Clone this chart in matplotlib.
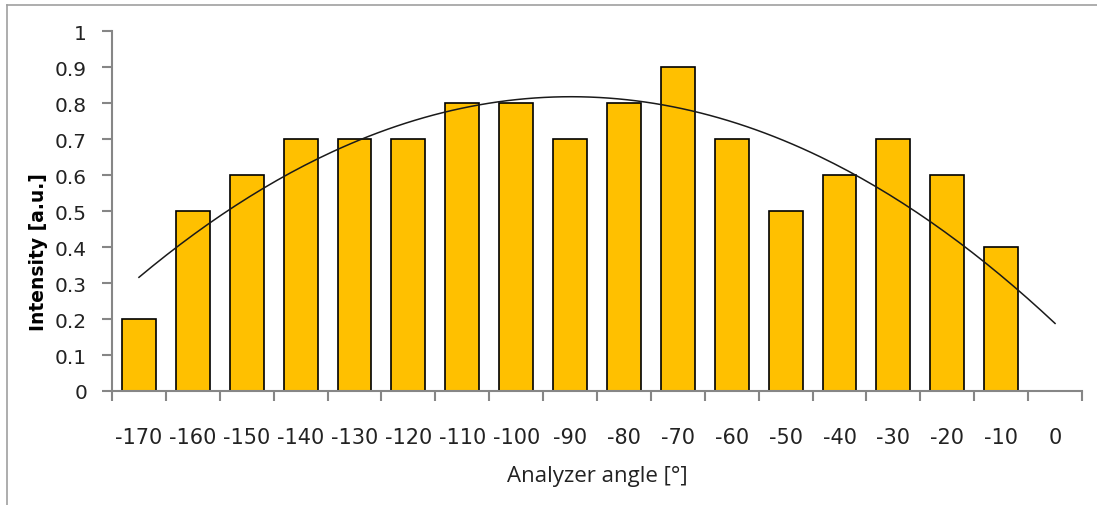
import matplotlib
matplotlib.use('Agg')
import matplotlib.pyplot as plt
from matplotlib.lines import Line2D
import numpy as np

# measured intensity per analyzer angle (0 at 0 degrees)
angles = [-170, -160, -150, -140, -130, -120, -110, -100, -90,
          -80, -70, -60, -50, -40, -30, -20, -10, 0]
intensity = [0.2, 0.5, 0.6, 0.7, 0.7, 0.7, 0.8, 0.8, 0.7,
             0.8, 0.9, 0.7, 0.5, 0.6, 0.7, 0.6, 0.4, 0.0]
y_ticks = [0, 0.1, 0.2, 0.3, 0.4, 0.5, 0.6, 0.7, 0.8, 0.9, 1]
y_labels = ['0', '0.1', '0.2', '0.3', '0.4', '0.5', '0.6', '0.7', '0.8', '0.9', '1']

axis_grey = '#868686'
text_col = '#222222'

fig = plt.figure(figsize=(10.97, 5.06), dpi=100)
ax = fig.add_axes([112/1097, 114/506, 970/1097, 360/506])

pos = np.arange(len(angles))
ax.bar(pos, intensity, width=0.63, color='#FFC000',
       edgecolor='black', linewidth=1.2, zorder=2)

# 2nd order polynomial trendline over the category index
xi = np.arange(1, len(intensity) + 1)
coef = np.polyfit(xi, intensity, 2)
xs = np.linspace(1, len(angles), 200)
ax.plot(xs - 1, np.polyval(coef, xs), color='#1a1a1a', lw=1.1, zorder=3)

ax.set_xlim(-0.5, len(angles) - 0.5)
ax.set_ylim(0, 1)
ax.set_yticks(y_ticks)
ax.set_yticklabels(y_labels)
ax.set_xticks(pos)
ax.set_xticklabels([str(a) for a in angles])
ax.set_xticks(np.arange(-0.5, len(angles), 1), minor=True)
ax.tick_params(axis='x', which='major', length=0, pad=26,
               labelsize=15, labelcolor=text_col)
ax.tick_params(axis='x', which='minor', length=7, width=1.5,
               color=axis_grey, direction='out')
ax.tick_params(axis='y', length=7, width=1.5, color=axis_grey,
               direction='out', labelsize=14.5, labelcolor=text_col, pad=11)

for s in ['top', 'right']:
    ax.spines[s].set_visible(False)
for s in ['left', 'bottom']:
    ax.spines[s].set_color(axis_grey)
    ax.spines[s].set_linewidth(1.5)

ax.set_xlabel('Analyzer angle [°]', family='Open Sans', fontsize=16,
              color=text_col, labelpad=13)
ax.set_ylabel('Intensity [a.u.]', family='DejaVu Sans', fontsize=13.5,
              fontweight='bold', color='black')
ax.yaxis.set_label_coords(-0.066, 0.39)

# chart area frame
fig.add_artist(Line2D([7/1097, 7/1097], [0, 1 - 6/506], color='#a0a0a0', lw=1.2))
fig.add_artist(Line2D([7/1097, 1], [1 - 6/506, 1 - 6/506], color='#a0a0a0', lw=1.2))

plt.savefig('out.png', dpi=100)
